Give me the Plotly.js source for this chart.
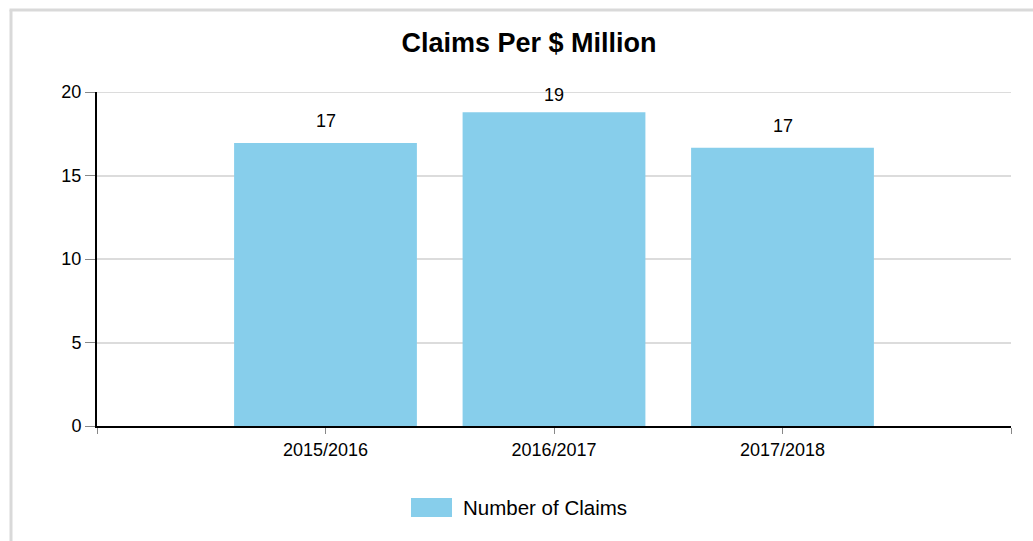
<!DOCTYPE html>
<html>
<head>
<meta charset="utf-8">
<script src="https://cdn.plot.ly/plotly-3.0.1.min.js"></script>
<style>
  html, body { margin: 0; padding: 0; background: #fff; }
  #chart { width: 1033px; height: 541px; }
</style>
</head>
<body>
<div id="chart"></div>
<script>
// ---- data ----
const categories = ["2015/2016", "2016/2017", "2017/2018"];
const claimsPerMillion = [16.95, 18.78, 16.66];
const seriesName = "Number of Claims";
const yTickVals = [0, 5, 10, 15, 20];

// ---- layout geometry ----
const W = 1033, H = 541;
const M = { l: 97, r: 22, t: 92, b: 115 };
const plotW = W - M.l - M.r, plotH = H - M.t - M.b;
const YMAX = 20;
const px2x = px => (px - M.l) / plotW;          // paper x
const px2y = py => (H - M.b - py) / plotH;      // paper y

const font = "Liberation Sans, Arial, Helvetica, sans-serif";
const barColor = "#87ceeb";
const xPos = categories.map((c, i) => i + 1);

const trace = {
  type: "bar",
  name: seriesName,
  x: xPos,
  y: claimsPerMillion,
  width: 0.8,
  marker: { color: barColor },
  hovertemplate: "%{text}: %{y}<extra></extra>",
  text: categories,
  textposition: "none"
};

// value labels above bars
const annotations = claimsPerMillion.map((v, i) => {
  const barTopPx = H - M.b - (v / YMAX) * plotH;
  const labelPx = Math.max(barTopPx - 22, 95);
  return {
    x: xPos[i], y: v, xref: "x", yref: "y",
    text: String(Math.round(v)),
    showarrow: false, yanchor: "middle", xanchor: "center",
    yshift: barTopPx - labelPx,
    font: { family: font, size: 18, color: "#000" }
  };
});

// legend text
annotations.push({
  x: px2x(461), y: px2y(507.5), xref: "paper", yref: "paper",
  text: seriesName, showarrow: false, xanchor: "left", yanchor: "middle",
  font: { family: font, size: 20.5, color: "#000" }
});

const shapes = [
  // top gridline (edge gridline is not drawn by the axis itself)
  { type: "line", xref: "paper", yref: "y", layer: "below",
    x0: 0, x1: 1, y0: YMAX, y1: YMAX,
    line: { color: "#dcdcdc", width: 2 } },
  // outer frame (left and top)
  { type: "line", xref: "paper", yref: "paper",
    x0: px2x(11), x1: px2x(11), y0: px2y(10), y1: px2y(560),
    line: { color: "#d9d9d9", width: 3 } },
  { type: "line", xref: "paper", yref: "paper",
    x0: px2x(9.5), x1: px2x(1060), y0: px2y(10), y1: px2y(10),
    line: { color: "#d9d9d9", width: 3 } },
  // legend swatch
  { type: "rect", xref: "paper", yref: "paper",
    x0: px2x(411), x1: px2x(452), y0: px2y(498), y1: px2y(517),
    fillcolor: barColor, line: { width: 0 } }
];

const layout = {
  width: W, height: H,
  margin: M,
  paper_bgcolor: "#fff", plot_bgcolor: "#fff",
  showlegend: false,
  font: { family: font, size: 18, color: "#000" },
  title: {
    text: "<b>Claims Per $ Million</b>",
    font: { family: font, size: 27, color: "#000" },
    xref: "container", yref: "container",
    x: 529 / W, y: 1 - 43 / H, xanchor: "center", yanchor: "middle"
  },
  xaxis: {
    type: "linear",
    range: [0, categories.length + 1],
    tickmode: "array",
    tickvals: [0, ...xPos, categories.length + 1],
    ticktext: ["", ...categories, ""],
    ticks: "outside", ticklen: 6, tickwidth: 1, tickcolor: "#888",
    showline: true, linecolor: "#000", linewidth: 2,
    showgrid: false, zeroline: false,
    tickfont: { family: font, size: 18, color: "#000" },
    fixedrange: true
  },
  yaxis: {
    range: [0, YMAX],
    tickmode: "array",
    tickvals: yTickVals,
    ticks: "outside", ticklen: 10, tickwidth: 1, tickcolor: "#888",
    showline: true, linecolor: "#000", linewidth: 2,
    showgrid: true, gridcolor: "#dcdcdc", gridwidth: 2,
    zeroline: false,
    tickfont: { family: font, size: 18, color: "#000" },
    fixedrange: true
  },
  bargap: 0.2,
  annotations: annotations,
  shapes: shapes
};

Plotly.newPlot("chart", [trace], layout, { displayModeBar: false, staticPlot: true });
</script>
</body>
</html>
